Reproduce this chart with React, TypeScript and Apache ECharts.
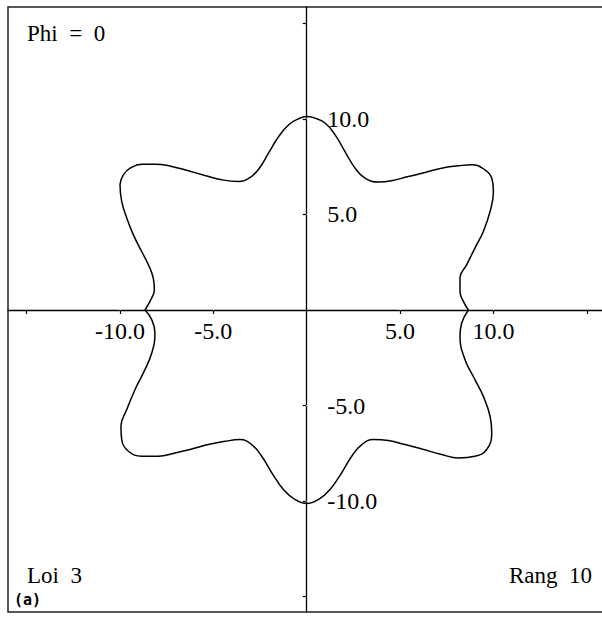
import React, { useEffect, useRef } from "react";
import * as echarts from "echarts";

// Upper branch: from the left cusp, over the top lobe, to the right cusp
const upperX = [-8.66, -8.3, -8.16, -8.22, -8.48, -8.84, -9.29, -9.64, -9.91, -10.0, -9.82, -9.46, -8.84, -8.13, -7.23, -6.34, -5.45, -4.55, -3.66, -3.05, -2.55, -2.05, -1.52, -0.95, -0.4, 0.0, 0.4, 0.98, 1.52, 2.05, 2.59, 3.12, 3.84, 4.55, 5.44, 6.34, 7.23, 8.12, 8.84, 9.55, 9.91, 10.0, 9.82, 9.46, 9.01, 8.57, 8.21, 8.21, 8.39, 8.66];
const upperY = [0.0, 0.63, 1.06, 1.67, 2.37, 3.06, 3.94, 4.81, 5.68, 6.55, 7.07, 7.42, 7.63, 7.63, 7.51, 7.28, 7.04, 6.81, 6.72, 6.92, 7.4, 8.2, 9.05, 9.7, 10.02, 10.12, 10.05, 9.78, 9.16, 8.29, 7.42, 6.9, 6.69, 6.76, 6.98, 7.19, 7.42, 7.54, 7.6, 7.33, 6.9, 6.2, 5.15, 4.11, 3.24, 2.37, 1.67, 0.97, 0.45, 0.0];

// Lower branch: from the right cusp, under the bottom lobe, back to the left cusp
const lowerX = [8.66, 8.3, 8.21, 8.48, 9.01, 9.46, 9.82, 9.91, 9.64, 9.01, 8.12, 7.23, 6.16, 5.27, 4.37, 3.57, 2.95, 2.41, 1.87, 1.25, 0.62, 0.0, -0.62, -1.25, -1.87, -2.41, -2.95, -3.57, -4.38, -5.27, -6.16, -7.05, -7.95, -8.84, -9.55, -9.91, -9.95, -9.64, -9.2, -8.75, -8.3, -8.13, -8.3, -8.66];
const lowerY = [0.0, -0.68, -1.38, -2.6, -3.64, -4.52, -5.56, -6.43, -7.3, -7.65, -7.74, -7.56, -7.27, -7.04, -6.83, -6.78, -7.04, -7.65, -8.52, -9.39, -9.92, -10.13, -9.92, -9.39, -8.52, -7.65, -7.04, -6.78, -6.87, -7.04, -7.27, -7.48, -7.65, -7.65, -7.39, -6.78, -6.08, -5.21, -4.17, -3.29, -2.25, -1.2, -0.51, 0.0];

// Axis ticks and labelled values
const tickValues = [-15, -10, -5, 5, 10, 15];
const labelValues = [-10, -5, 5, 10];

const zip = (xs: number[], ys: number[]) => xs.map((x, i) => [x, ys[i]]);

const SERIF = '"Liberation Serif", "Times New Roman", serif';
const INK = "#000";

export default function App() {
  const ref = useRef<HTMLDivElement>(null);

  useEffect(() => {
    if (!ref.current) return;
    const chart = echarts.init(ref.current, undefined, { renderer: "svg" });

    const curveStyle = {
      type: "line" as const,
      smooth: 0.45,
      showSymbol: false,
      symbol: "none",
      lineStyle: { color: INK, width: 1.5 },
      silent: true,
    };

    const labelText = {
      fontFamily: SERIF,
      fontSize: 24,
      color: INK,
      opacity: 1,
      textBorderWidth: 0,
    };

    chart.setOption({
      animation: false,
      backgroundColor: "#fff",
      grid: {
        left: 8,
        right: -4,
        top: 7,
        bottom: 5,
        show: true,
        borderColor: "#222",
        borderWidth: 1.5,
        outerBoundsMode: "none",
      },
      xAxis: {
        type: "value",
        min: -16,
        max: 16.03,
        axisLine: { onZero: true, lineStyle: { color: INK, width: 1.3 } },
        axisTick: {
          show: true,
          length: 4,
          customValues: tickValues,
          lineStyle: { color: INK, width: 1.2 },
        },
        axisLabel: { show: false },
        splitLine: { show: false },
      },
      yAxis: {
        type: "value",
        min: -15.8,
        max: 15.85,
        axisLine: { onZero: true, lineStyle: { color: INK, width: 1.3 } },
        axisTick: {
          show: true,
          length: 4,
          customValues: tickValues,
          lineStyle: { color: INK, width: 1.2 },
        },
        axisLabel: { show: false },
        splitLine: { show: false },
      },
      graphic: [
        {
          type: "text",
          left: 27,
          top: 22,
          style: { text: "Phi  =  0", font: `23px ${SERIF}`, fill: INK },
        },
        {
          type: "text",
          left: 27,
          top: 564,
          style: { text: "Loi  3", font: `23px ${SERIF}`, fill: INK },
        },
        {
          type: "text",
          right: 10,
          top: 564,
          style: { text: "Rang  10", font: `23px ${SERIF}`, fill: INK },
        },
        {
          type: "text",
          left: 14,
          top: 592,
          style: { text: "(a)", font: `bold 15px "DejaVu Sans Mono", monospace`, fill: INK },
        },
      ],
      series: [
        { ...curveStyle, name: "upper", data: zip(upperX, upperY) },
        { ...curveStyle, name: "lower", data: zip(lowerX, lowerY) },
        {
          // tick labels along the horizontal axis
          type: "scatter",
          silent: true,
          symbolSize: 1,
          itemStyle: { color: "#fff", opacity: 1 },
          data: labelValues.map((v) => [v, 0]),
          label: {
            show: true,
            position: "bottom",
            distance: 9,
            formatter: (p: any) => p.value[0].toFixed(1),
            ...labelText,
          },
        },
        {
          // tick labels along the vertical axis
          type: "scatter",
          silent: true,
          symbolSize: 1,
          itemStyle: { color: "#fff", opacity: 1 },
          data: labelValues.map((v) => [0, v]),
          label: {
            show: true,
            position: "right",
            distance: 20,
            formatter: (p: any) => p.value[1].toFixed(1),
            ...labelText,
          },
        },
      ],
    });

    return () => chart.dispose();
  }, []);

  return (
    <div
      ref={ref}
      style={{ position: "fixed", left: 0, top: 0, width: 602, height: 617 }}
    />
  );
}
